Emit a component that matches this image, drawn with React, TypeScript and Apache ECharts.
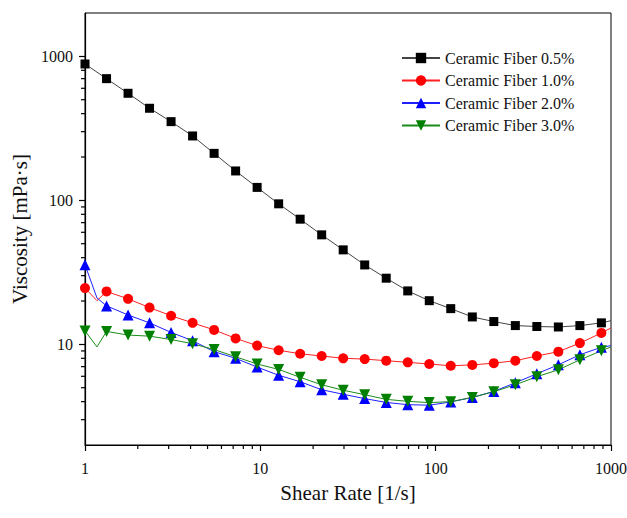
import React, { useEffect, useRef } from "react";
import * as echarts from "echarts";

// Shear rates of the logarithmic sweep [1/s]
const shearRate = [
  1, 1.327, 1.76, 2.334, 3.097, 4.108, 5.449, 7.228, 9.589, 12.72, 16.87, 22.38,
  29.69, 39.38, 52.24, 69.3, 91.93, 121.9, 161.8, 214.6, 284.7, 377.6, 500.9, 664.5, 881.5,
];

// Viscosity [mPa·s] for each fiber content
const fiber05 = [
  885, 700, 554, 436, 352, 280, 212, 160, 123, 94.6, 74, 57.6, 45.3, 35.6, 28.8, 23.5,
  20.1, 17.7, 15.5, 14.4, 13.5, 13.3, 13.2, 13.5, 14.1,
];
const fiber10 = [
  24.6, 23.3, 20.7, 18.0, 15.8, 14.1, 12.6, 11.0, 9.8, 9.1, 8.6, 8.3, 8.0, 7.9, 7.7, 7.5,
  7.3, 7.1, 7.2, 7.4, 7.7, 8.3, 8.9, 10.2, 12.0,
];
const fiber20 = [
  35.7, 18.5, 16.0, 14.1, 12.1, 10.6, 8.9, 8.0, 6.95, 6.1, 5.5, 4.84, 4.5, 4.2, 3.95, 3.81,
  3.78, 3.98, 4.28, 4.71, 5.41, 6.25, 7.21, 8.47, 9.55,
];
const fiber30 = [
  12.4, 12.3, 11.6, 11.4, 10.8, 10.1, 9.2, 8.2, 7.3, 6.7, 5.9, 5.24, 4.8, 4.47, 4.15, 4.02,
  3.94, 4.0, 4.28, 4.69, 5.24, 5.96, 6.66, 7.81, 9.02,
];

// Unmarked readings: the early dip and the end of the sweep
const dipRate = 1.17;
const dipViscosity = { "1.0": 20.1, "2.0": 21, "3.0": 9.6 };
const endRate = 1000;
const endViscosity = { "0.5": 14.6, "1.0": 13.0, "2.0": 9.8, "3.0": 9.6 };

// Axis ranges (decades)
const xRange = [1, 1000];
const yRange = [2, 2000];
const xMajor = [1, 10, 100, 1000];
const yMajor = [10, 100, 1000];

const FONT = "Liberation Serif";
const lg = (v: number) => Math.log10(v);

function buildData(values: number[], dip?: number, end?: number) {
  const pts: any[] = shearRate.map((x, i) => [lg(x), lg(values[i])]);
  if (dip !== undefined) pts.splice(1, 0, { value: [lg(dipRate), lg(dip)], symbol: "none" });
  if (end !== undefined) pts.push({ value: [lg(endRate), lg(end)], symbol: "none" });
  return pts;
}

function minorTicks(lo: number, hi: number) {
  const out: number[] = [];
  for (let d = Math.floor(lg(lo)); d < Math.ceil(lg(hi)); d++) {
    for (let k = 2; k <= 9; k++) {
      const v = k * Math.pow(10, d);
      if (v > lo * 1.0001 && v < hi * 0.9999) out.push(v);
    }
  }
  return out;
}

const isMajor = (v: number) => Math.abs(v - Math.round(v)) < 1e-6;

export default function App() {
  const ref = useRef<HTMLDivElement>(null);

  useEffect(() => {
    if (!ref.current) return;
    const chart = echarts.init(ref.current, undefined, { renderer: "svg" });
    const yMin = lg(yRange[0]);
    const yMax = lg(yRange[1]);
    const xMin = lg(xRange[0]);
    const xMax = lg(xRange[1]);

    const lineSeries = (
      name: string,
      color: string,
      lineColor: string,
      symbol: string,
      size: number,
      data: any[],
      rotate = 0
    ) => ({
      name,
      type: "line",
      data,
      symbol,
      symbolSize: size,
      symbolRotate: rotate,
      showAllSymbol: true,
      itemStyle: { color },
      lineStyle: { color: lineColor, width: 1 },
      clip: false,
      z: 3,
    });

    chart.setOption({
      animation: false,
      backgroundColor: "#ffffff",
      grid: {
        left: 85,
        right: 16,
        top: 13,
        bottom: 73,
        containLabel: false,
        outerBoundsMode: "none",
        show: true,
        borderColor: "#000",
        borderWidth: 1,
      },
      legend: {
        orient: "vertical",
        left: 396,
        top: 45,
        itemWidth: 38,
        itemHeight: 13,
        itemGap: 6.5,
        data: [
          "Ceramic Fiber 0.5%",
          "Ceramic Fiber 1.0%",
          "Ceramic Fiber 2.0%",
          "Ceramic Fiber 3.0%",
        ],
        textStyle: { fontFamily: FONT, fontSize: 16, color: "#111" },
      },
      xAxis: {
        type: "value",
        min: xMin,
        max: xMax,
        interval: 1,
        name: "Shear Rate [1/s]",
        nameLocation: "middle",
        nameGap: 37,
        nameTextStyle: { fontFamily: FONT, fontSize: 21, color: "#111" },
        axisLine: { onZero: false, lineStyle: { color: "#000", width: 1.2 } },
        axisTick: { inside: false, length: 6, lineStyle: { color: "#000", width: 1.2 } },
        axisLabel: {
          margin: 15,
          fontFamily: FONT,
          fontSize: 16,
          color: "#111",
          formatter: (v: number) =>
            isMajor(v) && xMajor.includes(Math.round(Math.pow(10, v))) ? String(Math.round(Math.pow(10, v))) : "",
        },
        splitLine: { show: false },
      },
      yAxis: {
        type: "value",
        min: yMin,
        max: yMax,
        minInterval: 1,
        maxInterval: 1,
        splitNumber: 3,
        name: "Viscosity [mPa·s]",
        nameLocation: "middle",
        nameRotate: 90,
        nameGap: 50,
        nameTextStyle: { fontFamily: FONT, fontSize: 21, color: "#111" },
        axisLine: { onZero: false, lineStyle: { color: "#000", width: 1.2 } },
        axisTick: { inside: false, length: 6, lineStyle: { color: "#000", width: 1.2 } },
        axisLabel: {
          margin: 12,
          fontFamily: FONT,
          fontSize: 16,
          color: "#111",
          showMinLabel: false,
          showMaxLabel: false,
          formatter: (v: number) =>
            isMajor(v) && yMajor.includes(Math.round(Math.pow(10, v))) ? String(Math.round(Math.pow(10, v))) : "",
        },
        splitLine: { show: false },
      },
      series: [
        lineSeries("Ceramic Fiber 0.5%", "#000000", "#444444", "rect", 9,
          buildData(fiber05, undefined, endViscosity["0.5"])),
        lineSeries("Ceramic Fiber 1.0%", "#ff0000", "#ff2020", "circle", 10,
          buildData(fiber10, dipViscosity["1.0"], endViscosity["1.0"])),
        lineSeries("Ceramic Fiber 2.0%", "#0000ff", "#2020ff", "triangle", 11,
          buildData(fiber20, dipViscosity["2.0"], endViscosity["2.0"])),
        lineSeries("Ceramic Fiber 3.0%", "#008000", "#1a8c1a", "triangle", 11,
          buildData(fiber30, dipViscosity["3.0"], endViscosity["3.0"]), 180),
        {
          // logarithmic minor ticks on the shear-rate axis
          type: "custom",
          silent: true,
          clip: false,
          z: 5,
          data: minorTicks(xRange[0], xRange[1]).map((v) => [lg(v), yMin]),
          renderItem: (_p: any, api: any) => {
            const p = api.coord([api.value(0), api.value(1)]);
            return {
              type: "line",
              shape: { x1: p[0], y1: p[1], x2: p[0], y2: p[1] + 4 },
              style: { stroke: "#000", lineWidth: 1.2 },
            };
          },
        },
        {
          // logarithmic minor ticks on the viscosity axis
          type: "custom",
          silent: true,
          clip: false,
          z: 5,
          data: minorTicks(yRange[0], yRange[1]).map((v) => [xMin, lg(v)]),
          renderItem: (_p: any, api: any) => {
            const p = api.coord([api.value(0), api.value(1)]);
            return {
              type: "line",
              shape: { x1: p[0], y1: p[1], x2: p[0] - 4, y2: p[1] },
              style: { stroke: "#000", lineWidth: 1.2 },
            };
          },
        },
      ],
    });

    return () => chart.dispose();
  }, []);

  return (
    <div
      ref={ref}
      style={{ position: "fixed", left: 0, top: 0, width: 627, height: 518, background: "#fff" }}
    />
  );
}
